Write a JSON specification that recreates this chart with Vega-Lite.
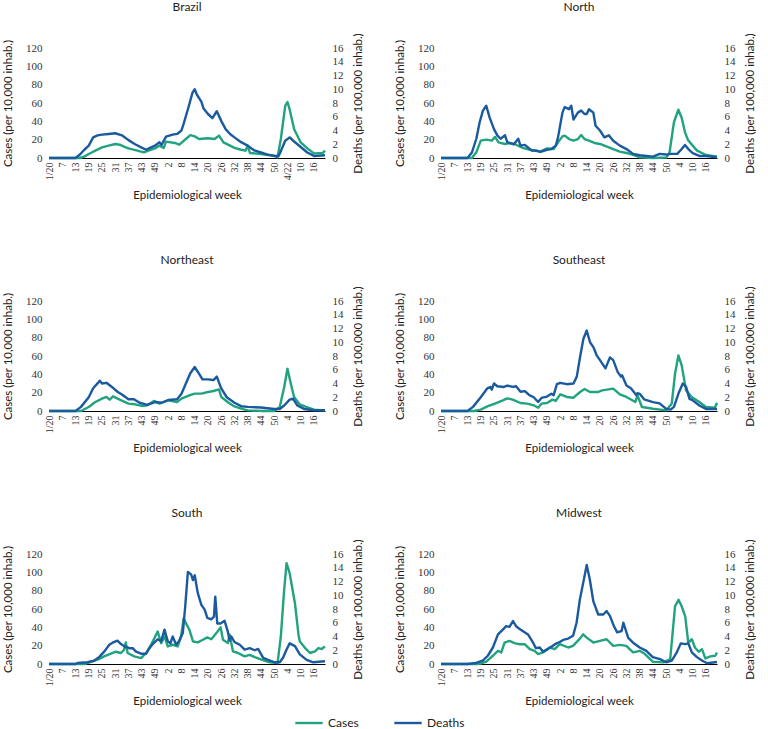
{
  "$schema": "https://vega.github.io/schema/vega-lite/v6.json",
  "padding": {"left": 2, "top": 0, "right": 0, "bottom": 0},
  "datasets": {
    "BrazilC": [{"w":1,"v":0},{"w":15,"v":0},{"w":17,"v":1.5},{"w":19,"v":4.4},{"w":22,"v":8},{"w":25,"v":11.6},{"w":28,"v":13.5},{"w":31,"v":15.3},{"w":33,"v":14.5},{"w":35,"v":12.5},{"w":37,"v":10.5},{"w":41,"v":8},{"w":44,"v":6.2},{"w":46,"v":8},{"w":49,"v":10.5},{"w":51,"v":13.5},{"w":53,"v":11},{"w":54,"v":17.8},{"w":58,"v":16.4},{"w":60,"v":14.5},{"w":63,"v":20.7},{"w":65,"v":25},{"w":67,"v":23.6},{"w":69,"v":20.7},{"w":73,"v":21.5},{"w":76,"v":20.7},{"w":78,"v":24.4},{"w":80,"v":17},{"w":83,"v":13.5},{"w":85,"v":11},{"w":88,"v":9},{"w":90,"v":8},{"w":91,"v":13.5},{"w":92,"v":5.5},{"w":97,"v":4.4},{"w":103,"v":2.5},{"w":104.5,"v":0.7},{"w":106,"v":20.7},{"w":108,"v":57},{"w":109,"v":61},{"w":110,"v":53},{"w":112,"v":31.6},{"w":115,"v":17},{"w":118,"v":10.5},{"w":121,"v":5},{"w":125,"v":5.5},{"w":126,"v":8}],
    "BrazilD": [{"w":1,"v":0},{"w":13,"v":0},{"w":15,"v":0.5},{"w":17,"v":1.2},{"w":19,"v":1.8},{"w":21,"v":3.0},{"w":23,"v":3.3},{"w":25,"v":3.4},{"w":28,"v":3.5},{"w":31,"v":3.6},{"w":34,"v":3.3},{"w":37,"v":2.6},{"w":40,"v":2.0},{"w":43,"v":1.5},{"w":45,"v":1.2},{"w":47,"v":1.5},{"w":49,"v":1.8},{"w":51,"v":2.3},{"w":52,"v":1.9},{"w":54,"v":3.1},{"w":57,"v":3.4},{"w":59,"v":3.5},{"w":61,"v":4.0},{"w":62,"v":5.0},{"w":64,"v":7.2},{"w":66,"v":9.5},{"w":67,"v":10.0},{"w":68,"v":9.2},{"w":70,"v":8.2},{"w":71,"v":7.2},{"w":73,"v":6.4},{"w":75,"v":5.8},{"w":77,"v":6.8},{"w":79,"v":5.4},{"w":81,"v":4.2},{"w":83,"v":3.5},{"w":85,"v":3.0},{"w":88,"v":2.3},{"w":91,"v":1.8},{"w":94,"v":1.1},{"w":97,"v":0.8},{"w":100,"v":0.5},{"w":103,"v":0.3},{"w":105,"v":0.3},{"w":106,"v":1.0},{"w":108,"v":2.5},{"w":110,"v":3.0},{"w":112,"v":2.4},{"w":115,"v":1.6},{"w":118,"v":0.8},{"w":121,"v":0.3},{"w":126,"v":0.4}],
    "NorthC": [{"w":1,"v":0},{"w":15,"v":0},{"w":17,"v":6.2},{"w":19,"v":19},{"w":21.5,"v":20},{"w":24,"v":19},{"w":25.5,"v":23},{"w":27,"v":17},{"w":30,"v":15.3},{"w":32,"v":16.4},{"w":35,"v":14.5},{"w":38,"v":11},{"w":40,"v":9.8},{"w":43,"v":8},{"w":46,"v":7},{"w":49,"v":10.5},{"w":52,"v":9.8},{"w":54,"v":17},{"w":56,"v":23.6},{"w":57,"v":24.4},{"w":59,"v":20.7},{"w":61,"v":19},{"w":63,"v":20.7},{"w":64.5,"v":25},{"w":66,"v":20.7},{"w":68,"v":19},{"w":70.5,"v":16.4},{"w":73,"v":15.3},{"w":75,"v":13.5},{"w":77,"v":11.6},{"w":79,"v":9.8},{"w":82,"v":7},{"w":85,"v":5.5},{"w":88,"v":3.3},{"w":91,"v":0.7},{"w":97,"v":0},{"w":103,"v":0.5},{"w":104.5,"v":6},{"w":106.5,"v":39},{"w":108.5,"v":52.7},{"w":110,"v":44},{"w":111.5,"v":28},{"w":113,"v":19},{"w":115,"v":13.5},{"w":117,"v":8},{"w":121,"v":3.3},{"w":126,"v":1.5}],
    "NorthD": [{"w":1,"v":0},{"w":13,"v":0},{"w":15,"v":0.8},{"w":17,"v":2.8},{"w":18.5,"v":5.2},{"w":20,"v":6.9},{"w":21.5,"v":7.6},{"w":23,"v":5.9},{"w":25,"v":4.2},{"w":26.5,"v":3.3},{"w":28,"v":2.8},{"w":30,"v":3.3},{"w":31,"v":2.3},{"w":34,"v":2.0},{"w":36,"v":2.8},{"w":37,"v":1.8},{"w":39,"v":1.9},{"w":42,"v":1.1},{"w":44,"v":1.1},{"w":46,"v":0.9},{"w":49,"v":1.2},{"w":51,"v":1.3},{"w":53,"v":1.8},{"w":54,"v":3.0},{"w":56,"v":6.6},{"w":57,"v":7.4},{"w":59,"v":7.1},{"w":60,"v":7.6},{"w":61,"v":5.6},{"w":63,"v":6.6},{"w":64.5,"v":6.9},{"w":66,"v":6.4},{"w":67,"v":6.4},{"w":68,"v":7.1},{"w":70,"v":6.6},{"w":71,"v":4.7},{"w":73,"v":4.0},{"w":75,"v":3.0},{"w":77,"v":3.3},{"w":79,"v":2.5},{"w":82,"v":1.8},{"w":85,"v":1.3},{"w":88,"v":0.6},{"w":91,"v":0.4},{"w":94,"v":0.3},{"w":97,"v":0.2},{"w":100,"v":0.6},{"w":103,"v":0.5},{"w":105,"v":0.6},{"w":108,"v":0.6},{"w":110,"v":1.3},{"w":111.5,"v":1.9},{"w":113,"v":1.3},{"w":115,"v":0.7},{"w":118,"v":0.3},{"w":121,"v":0.3},{"w":126,"v":0.1}],
    "NortheastC": [{"w":1,"v":0},{"w":15.5,"v":0},{"w":19,"v":4.4},{"w":22,"v":9.8},{"w":25,"v":13.5},{"w":27,"v":15.3},{"w":28.5,"v":12.4},{"w":30,"v":16},{"w":33,"v":12.4},{"w":37,"v":8},{"w":40,"v":7.3},{"w":43,"v":5.5},{"w":45.5,"v":6.2},{"w":48.5,"v":11},{"w":51,"v":8},{"w":55,"v":11.6},{"w":59,"v":9.8},{"w":61,"v":13.5},{"w":64.5,"v":17},{"w":67,"v":19},{"w":70,"v":19},{"w":73,"v":20.7},{"w":75.5,"v":21.8},{"w":78,"v":23.6},{"w":79,"v":15.3},{"w":82.5,"v":8.7},{"w":85,"v":5},{"w":88,"v":2.5},{"w":91,"v":0.7},{"w":98,"v":0},{"w":103,"v":0},{"w":105.5,"v":4.4},{"w":107.5,"v":26},{"w":109,"v":46},{"w":110.5,"v":30},{"w":112,"v":15.3},{"w":114.5,"v":7.3},{"w":117.5,"v":4.4},{"w":121,"v":1.5},{"w":126,"v":0.7}],
    "NortheastD": [{"w":1,"v":0},{"w":13,"v":0},{"w":15.5,"v":0.6},{"w":19,"v":2.0},{"w":21,"v":3.3},{"w":23.5,"v":4.2},{"w":24,"v":4.4},{"w":25,"v":4.0},{"w":27,"v":4.1},{"w":29.5,"v":3.5},{"w":32,"v":2.8},{"w":34,"v":2.4},{"w":37,"v":1.7},{"w":39.5,"v":1.7},{"w":42,"v":1.2},{"w":45.5,"v":0.9},{"w":49,"v":1.3},{"w":52,"v":1.2},{"w":55,"v":1.6},{"w":59,"v":1.7},{"w":61,"v":2.5},{"w":63,"v":4.0},{"w":65,"v":5.5},{"w":67,"v":6.4},{"w":69,"v":5.4},{"w":70.5,"v":4.6},{"w":73,"v":4.6},{"w":75.5,"v":4.5},{"w":77,"v":5.0},{"w":79,"v":3.3},{"w":81.5,"v":2.0},{"w":85,"v":1.2},{"w":88,"v":0.7},{"w":91,"v":0.6},{"w":97,"v":0.5},{"w":103,"v":0.3},{"w":105.5,"v":0.3},{"w":107.5,"v":0.8},{"w":110,"v":1.65},{"w":111.5,"v":1.8},{"w":113.5,"v":0.8},{"w":116.5,"v":0.3},{"w":121,"v":0.1},{"w":126,"v":0.1}],
    "SoutheastC": [{"w":1,"v":0},{"w":16,"v":0},{"w":19,"v":1.5},{"w":22,"v":5},{"w":26,"v":8.7},{"w":29,"v":11.6},{"w":31,"v":13.8},{"w":33.5,"v":12.4},{"w":37,"v":8.7},{"w":40,"v":8},{"w":43,"v":6.2},{"w":45,"v":3.6},{"w":46.5,"v":8},{"w":49,"v":8.7},{"w":51.5,"v":12.4},{"w":53,"v":11},{"w":55,"v":18.2},{"w":58,"v":15.3},{"w":61,"v":14.5},{"w":64,"v":20.7},{"w":66,"v":24},{"w":68.5,"v":20.7},{"w":72,"v":20.7},{"w":74,"v":22.5},{"w":79,"v":24.4},{"w":82,"v":18.2},{"w":85,"v":15.3},{"w":89,"v":9.8},{"w":90,"v":17},{"w":92,"v":4.4},{"w":97,"v":2.5},{"w":103,"v":0.7},{"w":105.5,"v":8},{"w":107,"v":40.7},{"w":108.5,"v":60.7},{"w":110,"v":49.8},{"w":112,"v":22.5},{"w":114.5,"v":15.3},{"w":118,"v":9.8},{"w":121,"v":4.4},{"w":125,"v":3.6},{"w":126,"v":9}],
    "SoutheastD": [{"w":1,"v":0},{"w":13,"v":0},{"w":15.5,"v":0.6},{"w":19,"v":2.0},{"w":22,"v":3.3},{"w":23.5,"v":3.5},{"w":24,"v":3.1},{"w":25,"v":4.0},{"w":26.5,"v":3.6},{"w":29.5,"v":3.5},{"w":31,"v":3.7},{"w":33.5,"v":3.5},{"w":35,"v":3.6},{"w":37,"v":2.8},{"w":39,"v":2.9},{"w":41,"v":2.3},{"w":43,"v":2.0},{"w":45,"v":1.3},{"w":46.5,"v":1.9},{"w":49,"v":2.1},{"w":51,"v":2.5},{"w":52,"v":2.3},{"w":53.5,"v":3.9},{"w":55,"v":4.1},{"w":58,"v":3.9},{"w":61,"v":4.0},{"w":62.5,"v":5.0},{"w":64,"v":7.9},{"w":65.5,"v":10.5},{"w":67,"v":11.7},{"w":68.5,"v":10.0},{"w":70,"v":9.3},{"w":71.5,"v":8.1},{"w":73,"v":7.4},{"w":75.5,"v":6.2},{"w":77.5,"v":7.8},{"w":79,"v":7.4},{"w":81,"v":5.7},{"w":82.5,"v":5.0},{"w":83,"v":5.2},{"w":85,"v":3.7},{"w":87,"v":3.3},{"w":89.5,"v":2.3},{"w":90,"v":2.6},{"w":91,"v":2.5},{"w":93,"v":1.7},{"w":97,"v":1.3},{"w":100,"v":1.1},{"w":103,"v":0.3},{"w":105,"v":0.2},{"w":106.5,"v":0.6},{"w":108.5,"v":2.5},{"w":110.5,"v":4.0},{"w":112,"v":3.5},{"w":113.5,"v":1.8},{"w":115,"v":1.55},{"w":118,"v":0.8},{"w":121,"v":0.3},{"w":126,"v":0.3}],
    "SouthC": [{"w":1,"v":0},{"w":17,"v":0},{"w":18.4,"v":1},{"w":23,"v":4.7},{"w":26,"v":8.3},{"w":29,"v":11.2},{"w":31.3,"v":13.4},{"w":33.6,"v":12},{"w":35,"v":15.6},{"w":35.8,"v":23.6},{"w":36.6,"v":12},{"w":39.6,"v":8.3},{"w":42.7,"v":6.5},{"w":45,"v":12},{"w":47.2,"v":21},{"w":48.7,"v":28},{"w":50.2,"v":35.5},{"w":51.8,"v":22.8},{"w":53.3,"v":30},{"w":54.8,"v":19.2},{"w":57,"v":21},{"w":59.3,"v":19.2},{"w":60.8,"v":30},{"w":62,"v":50},{"w":63,"v":44.6},{"w":64.6,"v":37.3},{"w":66.2,"v":24.6},{"w":68.4,"v":23.6},{"w":70.7,"v":26.4},{"w":72.7,"v":29},{"w":74.5,"v":27},{"w":76.8,"v":33.7},{"w":78.7,"v":40},{"w":79.8,"v":26.4},{"w":82,"v":22.8},{"w":82.8,"v":32},{"w":84.3,"v":13.8},{"w":86.6,"v":12},{"w":89.6,"v":8.3},{"w":91.9,"v":10},{"w":94.2,"v":7.6},{"w":97.2,"v":4.7},{"w":101,"v":1.8},{"w":104.5,"v":1},{"w":106,"v":30},{"w":107.5,"v":80.8},{"w":108.6,"v":110},{"w":110,"v":99},{"w":112.4,"v":66},{"w":114,"v":32},{"w":114.6,"v":24.6},{"w":117,"v":17.4},{"w":119.2,"v":12},{"w":121.5,"v":13.8},{"w":123,"v":17.4},{"w":124.5,"v":16.3},{"w":126,"v":19.2}],
    "SouthD": [{"w":1,"v":0},{"w":13,"v":0},{"w":13.9,"v":0.15},{"w":18.4,"v":0.25},{"w":21.5,"v":0.5},{"w":23.7,"v":1.0},{"w":26,"v":1.8},{"w":28.3,"v":2.8},{"w":29.8,"v":3.1},{"w":32,"v":3.4},{"w":33.6,"v":2.9},{"w":35,"v":2.6},{"w":37.4,"v":2.3},{"w":38.9,"v":2.3},{"w":40.4,"v":1.8},{"w":42.7,"v":1.5},{"w":45,"v":1.5},{"w":46.5,"v":2.3},{"w":48,"v":2.9},{"w":50.2,"v":3.6},{"w":51.8,"v":3.3},{"w":53.3,"v":5.0},{"w":54.8,"v":3.3},{"w":56,"v":3.0},{"w":57,"v":4.0},{"w":58.6,"v":2.8},{"w":60,"v":3.4},{"w":61.6,"v":4.5},{"w":62.7,"v":8.4},{"w":63.9,"v":13.4},{"w":65.4,"v":13.0},{"w":66.2,"v":12.2},{"w":67,"v":12.9},{"w":68.4,"v":10.3},{"w":70,"v":8.6},{"w":71.5,"v":7.9},{"w":72.7,"v":6.7},{"w":74.5,"v":6.5},{"w":75.7,"v":6.9},{"w":76.3,"v":9.8},{"w":77.2,"v":5.9},{"w":78.7,"v":5.9},{"w":80.5,"v":6.3},{"w":82,"v":4.7},{"w":82.8,"v":3.4},{"w":83.6,"v":4.0},{"w":85,"v":3.2},{"w":87.4,"v":2.8},{"w":89.6,"v":2.1},{"w":91.9,"v":2.3},{"w":94.2,"v":2.0},{"w":95.7,"v":2.2},{"w":98,"v":0.9},{"w":100.2,"v":0.6},{"w":103.3,"v":0.25},{"w":105.5,"v":0.25},{"w":107,"v":0.9},{"w":108.6,"v":2.1},{"w":110,"v":3.0},{"w":112.4,"v":2.6},{"w":114.6,"v":1.4},{"w":117.7,"v":0.6},{"w":120.7,"v":0.25},{"w":126,"v":0.4}],
    "MidwestC": [{"w":1,"v":0},{"w":17,"v":0},{"w":19,"v":0.5},{"w":21.5,"v":2.5},{"w":24.5,"v":9},{"w":26.8,"v":14.4},{"w":28.3,"v":12.6},{"w":29.8,"v":23.4},{"w":32,"v":25.2},{"w":34.3,"v":22.7},{"w":36.6,"v":21.6},{"w":38.9,"v":21.6},{"w":41.2,"v":16.2},{"w":43.4,"v":14.4},{"w":45,"v":10.8},{"w":47.2,"v":12.6},{"w":50.2,"v":18},{"w":52.5,"v":16.2},{"w":54.8,"v":21.6},{"w":58.6,"v":18},{"w":60.8,"v":19.8},{"w":63.9,"v":27.7},{"w":65.4,"v":32.4},{"w":67,"v":28.8},{"w":70,"v":23.4},{"w":73,"v":25.2},{"w":76,"v":27},{"w":79,"v":19.8},{"w":82,"v":20.9},{"w":84.9,"v":19.8},{"w":88,"v":12.6},{"w":91,"v":14.4},{"w":93.4,"v":10.8},{"w":95.7,"v":5.4},{"w":96.9,"v":2.5},{"w":101.8,"v":1.8},{"w":104.8,"v":5.4},{"w":107,"v":63},{"w":108.6,"v":70},{"w":110,"v":63},{"w":111.6,"v":52},{"w":113,"v":23.4},{"w":114.6,"v":27},{"w":116,"v":18},{"w":117.7,"v":13.3},{"w":119.2,"v":16.2},{"w":120.7,"v":6.1},{"w":123,"v":8.3},{"w":125.2,"v":9},{"w":126,"v":12.6}],
    "MidwestD": [{"w":1,"v":0},{"w":13,"v":0},{"w":16.9,"v":0.15},{"w":19.9,"v":0.5},{"w":22.2,"v":1.2},{"w":24.5,"v":2.4},{"w":26.8,"v":4.3},{"w":29,"v":5.0},{"w":30.5,"v":5.5},{"w":32,"v":5.4},{"w":33.6,"v":6.25},{"w":35,"v":5.5},{"w":36.6,"v":5.1},{"w":38,"v":4.8},{"w":40.4,"v":4.3},{"w":42.7,"v":3.1},{"w":44,"v":2.3},{"w":45.7,"v":2.4},{"w":47.2,"v":1.8},{"w":49.5,"v":2.2},{"w":51.8,"v":2.7},{"w":53.3,"v":3.0},{"w":54.8,"v":3.2},{"w":56.3,"v":3.5},{"w":58.6,"v":3.7},{"w":60.8,"v":4.1},{"w":62.4,"v":6.0},{"w":63.9,"v":9.4},{"w":65.4,"v":11.8},{"w":67,"v":14.4},{"w":68.4,"v":12.3},{"w":70,"v":9.1},{"w":72.2,"v":7.2},{"w":74.5,"v":7.2},{"w":76,"v":7.7},{"w":77.5,"v":7.0},{"w":79.3,"v":5.5},{"w":80.8,"v":4.6},{"w":82.8,"v":4.8},{"w":83.6,"v":6.0},{"w":85.8,"v":3.8},{"w":88,"v":3.1},{"w":91,"v":2.4},{"w":94,"v":1.9},{"w":96.9,"v":1.0},{"w":100.2,"v":0.7},{"w":103,"v":0.25},{"w":105.5,"v":0.5},{"w":107.8,"v":1.7},{"w":109.6,"v":3.0},{"w":111.6,"v":2.9},{"w":113,"v":3.0},{"w":114.6,"v":1.7},{"w":116.9,"v":1.0},{"w":119.2,"v":0.5},{"w":121.5,"v":0.1},{"w":126,"v":0.3}]
  },
  "columns": 2,
  "spacing": {"row": 51, "column": 30},
  "concat": [
    {"title": "Brazil", "width": 276, "height": 110, "resolve": {"scale": {"y": "independent"}},
     "layer": [
      {"data": {"name": "BrazilC"}, "mark": "line", "encoding": {
        "x": {"field": "w", "type": "quantitative", "scale": {"domain": [1, 126], "nice": false, "zero": false}, "axis": {"values": [1,7,13,19,25,31,37,43,49,55,61,67,73,79,85,91,97,103,109,115,121], "tickCount": 40, "labelOverlap": false, "labelExpr": "datum.value == 1 ? '1/20' : datum.value <= 53 ? '' + datum.value : datum.value <= 105 ? '' + (datum.value - 53) : datum.value == 109 ? '4/22' : '' + (datum.value - 105)", "title": "Epidemiological week"}},
        "y": {"field": "v", "type": "quantitative", "scale": {"domain": [0, 120], "nice": false}, "axis": {"orient": "left", "values": [0,20,40,60,80,100,120], "tickCount": 10, "title": "Cases (per 10,000 inhab.)", "titlePadding": 12}},
        "color": {"datum": "Cases"}}},
      {"data": {"name": "BrazilD"}, "mark": "line", "encoding": {
        "x": {"field": "w", "type": "quantitative"},
        "y": {"field": "v", "type": "quantitative", "scale": {"domain": [0, 16], "nice": false}, "axis": {"orient": "right", "values": [0,2,4,6,8,10,12,14,16], "tickCount": 12, "title": "Deaths (per 100,000 inhab.)", "titleAngle": 270, "titleBaseline": "top", "titlePadding": 9}},
        "color": {"datum": "Deaths"}}}
     ]},
    {"title": "North", "width": 276, "height": 110, "resolve": {"scale": {"y": "independent"}},
     "layer": [
      {"data": {"name": "NorthC"}, "mark": "line", "encoding": {
        "x": {"field": "w", "type": "quantitative", "scale": {"domain": [1, 126], "nice": false, "zero": false}, "axis": {"values": [1,7,13,19,25,31,37,43,49,55,61,67,73,79,85,91,97,103,109,115,121], "tickCount": 40, "labelOverlap": false, "labelExpr": "datum.value == 1 ? '1/20' : datum.value <= 53 ? '' + datum.value : datum.value <= 105 ? '' + (datum.value - 53) : '' + (datum.value - 105)", "title": "Epidemiological week"}},
        "y": {"field": "v", "type": "quantitative", "scale": {"domain": [0, 120], "nice": false}, "axis": {"orient": "left", "values": [0,20,40,60,80,100,120], "tickCount": 10, "title": "Cases (per 10,000 inhab.)", "titlePadding": 12}},
        "color": {"datum": "Cases"}}},
      {"data": {"name": "NorthD"}, "mark": "line", "encoding": {
        "x": {"field": "w", "type": "quantitative"},
        "y": {"field": "v", "type": "quantitative", "scale": {"domain": [0, 16], "nice": false}, "axis": {"orient": "right", "values": [0,2,4,6,8,10,12,14,16], "tickCount": 12, "title": "Deaths (per 100,000 inhab.)", "titleAngle": 270, "titleBaseline": "top", "titlePadding": 9}},
        "color": {"datum": "Deaths"}}}
     ]},
    {"title": "Northeast", "width": 276, "height": 110, "resolve": {"scale": {"y": "independent"}},
     "layer": [
      {"data": {"name": "NortheastC"}, "mark": "line", "encoding": {
        "x": {"field": "w", "type": "quantitative", "scale": {"domain": [1, 126], "nice": false, "zero": false}, "axis": {"values": [1,7,13,19,25,31,37,43,49,55,61,67,73,79,85,91,97,103,109,115,121], "tickCount": 40, "labelOverlap": false, "labelExpr": "datum.value == 1 ? '1/20' : datum.value <= 53 ? '' + datum.value : datum.value <= 105 ? '' + (datum.value - 53) : '' + (datum.value - 105)", "title": "Epidemiological week"}},
        "y": {"field": "v", "type": "quantitative", "scale": {"domain": [0, 120], "nice": false}, "axis": {"orient": "left", "values": [0,20,40,60,80,100,120], "tickCount": 10, "title": "Cases (per 10,000 inhab.)", "titlePadding": 12}},
        "color": {"datum": "Cases"}}},
      {"data": {"name": "NortheastD"}, "mark": "line", "encoding": {
        "x": {"field": "w", "type": "quantitative"},
        "y": {"field": "v", "type": "quantitative", "scale": {"domain": [0, 16], "nice": false}, "axis": {"orient": "right", "values": [0,2,4,6,8,10,12,14,16], "tickCount": 12, "title": "Deaths (per 100,000 inhab.)", "titleAngle": 270, "titleBaseline": "top", "titlePadding": 9}},
        "color": {"datum": "Deaths"}}}
     ]},
    {"title": "Southeast", "width": 276, "height": 110, "resolve": {"scale": {"y": "independent"}},
     "layer": [
      {"data": {"name": "SoutheastC"}, "mark": "line", "encoding": {
        "x": {"field": "w", "type": "quantitative", "scale": {"domain": [1, 126], "nice": false, "zero": false}, "axis": {"values": [1,7,13,19,25,31,37,43,49,55,61,67,73,79,85,91,97,103,109,115,121], "tickCount": 40, "labelOverlap": false, "labelExpr": "datum.value == 1 ? '1/20' : datum.value <= 53 ? '' + datum.value : datum.value <= 105 ? '' + (datum.value - 53) : '' + (datum.value - 105)", "title": "Epidemiological week"}},
        "y": {"field": "v", "type": "quantitative", "scale": {"domain": [0, 120], "nice": false}, "axis": {"orient": "left", "values": [0,20,40,60,80,100,120], "tickCount": 10, "title": "Cases (per 10,000 inhab.)", "titlePadding": 12}},
        "color": {"datum": "Cases"}}},
      {"data": {"name": "SoutheastD"}, "mark": "line", "encoding": {
        "x": {"field": "w", "type": "quantitative"},
        "y": {"field": "v", "type": "quantitative", "scale": {"domain": [0, 16], "nice": false}, "axis": {"orient": "right", "values": [0,2,4,6,8,10,12,14,16], "tickCount": 12, "title": "Deaths (per 100,000 inhab.)", "titleAngle": 270, "titleBaseline": "top", "titlePadding": 9}},
        "color": {"datum": "Deaths"}}}
     ]},
    {"title": "South", "width": 276, "height": 110, "resolve": {"scale": {"y": "independent"}},
     "layer": [
      {"data": {"name": "SouthC"}, "mark": "line", "encoding": {
        "x": {"field": "w", "type": "quantitative", "scale": {"domain": [1, 126], "nice": false, "zero": false}, "axis": {"values": [1,7,13,19,25,31,37,43,49,55,61,67,73,79,85,91,97,103,109,115,121], "tickCount": 40, "labelOverlap": false, "labelExpr": "datum.value == 1 ? '1/20' : datum.value <= 53 ? '' + datum.value : datum.value <= 105 ? '' + (datum.value - 53) : '' + (datum.value - 105)", "title": "Epidemiological week"}},
        "y": {"field": "v", "type": "quantitative", "scale": {"domain": [0, 120], "nice": false}, "axis": {"orient": "left", "values": [0,20,40,60,80,100,120], "tickCount": 10, "title": "Cases (per 10,000 inhab.)", "titlePadding": 12}},
        "color": {"datum": "Cases"}}},
      {"data": {"name": "SouthD"}, "mark": "line", "encoding": {
        "x": {"field": "w", "type": "quantitative"},
        "y": {"field": "v", "type": "quantitative", "scale": {"domain": [0, 16], "nice": false}, "axis": {"orient": "right", "values": [0,2,4,6,8,10,12,14,16], "tickCount": 12, "title": "Deaths (per 100,000 inhab.)", "titleAngle": 270, "titleBaseline": "top", "titlePadding": 9}},
        "color": {"datum": "Deaths"}}}
     ]},
    {"title": "Midwest", "width": 276, "height": 110, "resolve": {"scale": {"y": "independent"}},
     "layer": [
      {"data": {"name": "MidwestC"}, "mark": "line", "encoding": {
        "x": {"field": "w", "type": "quantitative", "scale": {"domain": [1, 126], "nice": false, "zero": false}, "axis": {"values": [1,7,13,19,25,31,37,43,49,55,61,67,73,79,85,91,97,103,109,115,121], "tickCount": 40, "labelOverlap": false, "labelExpr": "datum.value == 1 ? '1/20' : datum.value <= 53 ? '' + datum.value : datum.value <= 105 ? '' + (datum.value - 53) : '' + (datum.value - 105)", "title": "Epidemiological week"}},
        "y": {"field": "v", "type": "quantitative", "scale": {"domain": [0, 120], "nice": false}, "axis": {"orient": "left", "values": [0,20,40,60,80,100,120], "tickCount": 10, "title": "Cases (per 10,000 inhab.)", "titlePadding": 12}},
        "color": {"datum": "Cases"}}},
      {"data": {"name": "MidwestD"}, "mark": "line", "encoding": {
        "x": {"field": "w", "type": "quantitative"},
        "y": {"field": "v", "type": "quantitative", "scale": {"domain": [0, 16], "nice": false}, "axis": {"orient": "right", "values": [0,2,4,6,8,10,12,14,16], "tickCount": 12, "title": "Deaths (per 100,000 inhab.)", "titleAngle": 270, "titleBaseline": "top", "titlePadding": 9}},
        "color": {"datum": "Deaths"}}}
     ]}
  ],
  "resolve": {"scale": {"color": "shared"}},
  "config": {
    "font": "Lato",
    "view": {"stroke": null},
    "line": {"strokeWidth": 2.4, "strokeJoin": "round"},
    "range": {"category": ["#22a37f", "#1b5a9e"]},
    "axis": {"grid": false, "ticks": false, "domain": false, "labelFont": "Liberation Serif", "labelFontSize": 11, "labelColor": "#333333", "labelPadding": 7, "titleFont": "Lato", "titleFontSize": 11.5, "titleFontWeight": "normal", "titleColor": "#222222"},
    "axisX": {"domain": true, "domainColor": "#000000", "domainWidth": 1, "labelAngle": 270, "labelFontSize": 10, "labelPadding": 4, "titlePadding": 10, "labelOverlap": false, "labelFlush": false, "labelBound": false},
    "title": {"font": "Lato", "fontSize": 12, "fontWeight": "normal", "color": "#222222", "offset": 19},
    "legend": {"orient": "bottom", "direction": "horizontal", "title": null, "symbolType": "stroke", "symbolStrokeWidth": 3, "symbolSize": 750, "labelFont": "Lato", "labelFontSize": 12, "labelColor": "#222222", "columnPadding": 34, "offset": 0, "layout": {"bottom": {"anchor": "middle"}}}
  }
}
